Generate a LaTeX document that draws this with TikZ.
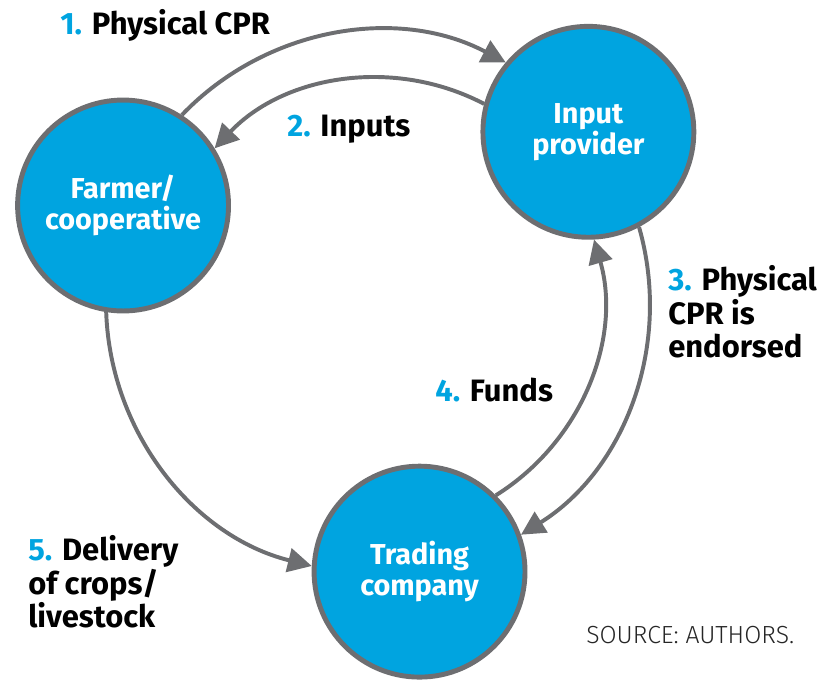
\documentclass[tikz,border=0pt]{standalone}
\usepackage{fontspec}
\setmainfont{Fira Sans}
\newfontfamily\thinfont{Fira Sans Light}
\usetikzlibrary{arrows.meta}
\definecolor{cprblue}{RGB}{0,164,224}
\definecolor{cprgrey}{RGB}{109,110,113}
\newcommand{\stepno}[1]{\textcolor{cprblue}{#1}}
\tikzset{
  hub/.style={circle, fill=cprblue, draw=cprgrey, line width=3.5pt,
    minimum size=150pt, inner sep=0pt, text=white, align=center,
    font=\bfseries\fontsize{20.5}{22}\selectfont,
    execute at begin node=\rule{0pt}{21pt}},
  flow/.style={-{Triangle[length=17pt,width=17pt]}, draw=cprgrey,
    line width=2.8pt, looseness=.95},
  tag/.style={anchor=base west, inner sep=0pt, align=left,
    font=\bfseries\fontsize{22}{24}\selectfont}
}
\begin{document}
\begin{tikzpicture}[x=0.025cm, y=0.025cm]
\useasboundingbox (0,0) rectangle (825,681);
\coordinate (ring) at (377,378);

% the three parties
\node[hub] (farmer) at ([shift={(159:272)}]ring) {Farmer/\\cooperative};
\node[hub] (input) at ([shift={(39:272)}]ring) {Input\\provider};
\node[hub] (trading) at ([shift={(-81:272)}]ring) {Trading\\company};

% flows
\draw[flow] (farmer.57.5) to[bend left=37] (input.140.5);
\draw[flow] (input.165.6) to[bend right=37] (farmer.32.4);
\draw[flow] (input.-62.5) to[bend left=37] (trading.20.5);
\draw[flow] (trading.45.6) to[bend right=37] (input.-87.6);
\draw[flow] (farmer.-99.5) to[bend right=37] (trading.177.5);

% labels (base = last line)
\node[tag] (cpr) at (60,646) {\stepno{1.} Physical CPR};
\node[tag] (inputs) at (287,544) {\stepno{2.} Inputs};
\node[tag] (endorsed) at (668,323) {\stepno{3.} Physical\\CPR is\\endorsed};
\node[tag] (funds) at (435,279) {\stepno{4.} Funds};
\node[tag] (delivery) at (28,53) {\stepno{5.} Delivery\\of crops/\\livestock};
\node[anchor=base west, inner sep=0pt, font=\thinfont\fontsize{17.6}{20}\selectfont, text=black!85] (source) at (586,37) {SOURCE: AUTHORS.};
\end{tikzpicture}
\end{document}
